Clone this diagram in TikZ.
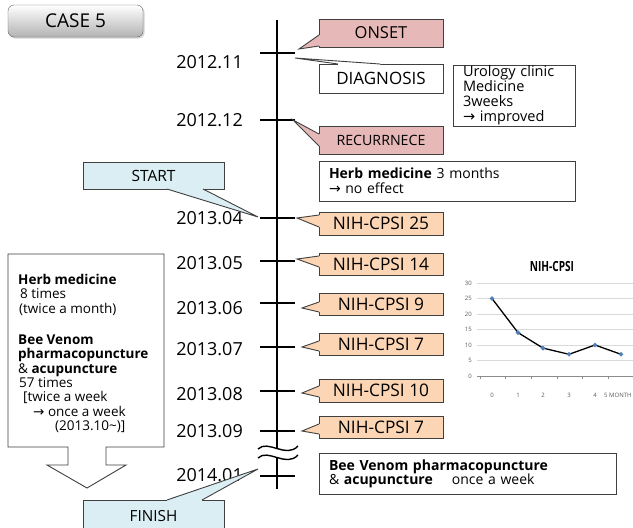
\documentclass[tikz,border=0pt]{standalone}
\usepackage{fontspec}
\setmainfont{Open Sans}
\newfontfamily\arrowfont{DejaVu Sans}
\usetikzlibrary{calc,shadows,shapes.geometric}
\definecolor{pinkf}{HTML}{E6B9B8}
\definecolor{peach}{HTML}{FCD5B4}
\definecolor{lblue}{HTML}{DBEEF4}
\definecolor{bord}{HTML}{404040}
\definecolor{mblue}{HTML}{4F81BD}
\definecolor{gridc}{HTML}{D9D9D9}
\newcommand{\fs}[1]{\fontsize{#1}{#1}\selectfont}
\newcommand{\arr}{{\arrowfont →}}
% left-edge pointer: node, colour, tip, y-offset a, y-offset b
\newcommand{\lcall}[5]{%
  \fill[#2] ($(#1.north west)+(-0.5,#4)$) -- (#3) -- ($(#1.north west)+(-0.5,#5)$)
    -- ($(#1.north west)+(1.3,#5)$) -- ($(#1.north west)+(1.3,#4)$) -- cycle;
  \draw[bord, line width=0.9pt] ($(#1.north west)+(0,#4)$) -- (#3) -- ($(#1.north west)+(0,#5)$);}
% top-edge pointer: node, colour, tip, x-offset a, x-offset b
\newcommand{\tcall}[5]{%
  \fill[#2] ($(#1.north west)+(#4,-0.5)$) -- (#3) -- ($(#1.north west)+(#5,-0.5)$)
    -- ($(#1.north west)+(#5,1.3)$) -- ($(#1.north west)+(#4,1.3)$) -- cycle;
  \draw[bord, line width=0.9pt] ($(#1.north west)+(#4,0)$) -- (#3) -- ($(#1.north west)+(#5,0)$);}
% bottom-edge pointer
\newcommand{\bcall}[5]{%
  \fill[#2] ($(#1.south west)+(#4,0.5)$) -- (#3) -- ($(#1.south west)+(#5,0.5)$)
    -- ($(#1.south west)+(#5,-1.3)$) -- ($(#1.south west)+(#4,-1.3)$) -- cycle;
  \draw[bord, line width=0.9pt] ($(#1.south west)+(#4,0)$) -- (#3) -- ($(#1.south west)+(#5,0)$);}
\tikzset{
  callbox/.style={draw=bord, line width=0.9pt, minimum width=124pt, inner sep=0pt, outer sep=0pt, rectangle},
  nih/.style={callbox, fill=peach, minimum height=22pt, font=\fs{17.3}},
  datelab/.style={anchor=east, inner sep=0pt, font=\fs{18}},
  tickline/.style={line width=1.8pt},
  ylab/.style={anchor=east, inner sep=0pt, font=\fs{6}, text=black!65},
  xlab/.style={inner sep=0pt, font=\fs{6}, text=black!65},
  marker/.style={diamond, fill=mblue, inner sep=0pt, minimum size=5pt}
}
\begin{document}
\begin{tikzpicture}[x=1pt,y=-1pt]
\useasboundingbox (0,0) rectangle (633,528);
\fill[white] (0,0) rectangle (633,528);

% CASE 5
\node[draw=black!60, rounded corners=6pt, minimum width=135pt, minimum height=32pt,
  top color=white, bottom color=black!30,
  drop shadow={opacity=0.35,shadow xshift=1.5pt,shadow yshift=-1.5pt},
  font=\fs{19}] (case) at (75.5,21) {CASE 5};

% timeline
\coordinate (ltop) at (277,20);
\coordinate (lbot) at (277,489);
\draw[line width=2.6pt] (ltop) -- (lbot);
\foreach \n/\y in {a/53, b/120, c/218, d/261, e/303, f/347, g/391, h/431, i/476}{
  \coordinate (t\n) at (277,\y);
  \draw[tickline] ($(t\n)+(-17,0)$) -- ($(t\n)+(18,0)$);
}
% break symbol
\fill[white] (258,449) .. controls (268,439) and (286,459) .. (298,446)
  -- (298,455) .. controls (286,468) and (268,448) .. (258,458) -- cycle;
\draw[line width=1.4pt] (258,449) .. controls (268,439) and (286,459) .. (298,446);
\draw[line width=1.4pt] (258,458) .. controls (268,448) and (286,468) .. (298,455);

% dates
\node[datelab] (da) at (243,62) {2012.11};
\node[datelab] (db) at (243,120) {2012.12};
\node[datelab] (dc) at (243,218) {2013.04};
\node[datelab] (dd) at (243,263) {2013.05};
\node[datelab] (de) at (243,308) {2013.06};
\node[datelab] (df) at (243,349) {2013.07};
\node[datelab] (dg) at (243,394) {2013.08};
\node[datelab] (dh) at (243,431) {2013.09};
\node[datelab] (di) at (243,475) {2014.01};

% right callouts
\coordinate (tipon) at (299,49);
\node[callbox, fill=pinkf, minimum height=28pt, font=\fs{16.5}] (onset) at (381,33) {ONSET};
\lcall{onset}{pinkf}{tipon}{16}{27}

\coordinate (tipdg) at (295,58);
\node[callbox, fill=white, minimum height=29pt, font=\fs{17}] (diag) at (381,78.5) {DIAGNOSIS};
\tcall{diag}{white}{tipdg}{19}{61}

\node[callbox, fill=white, minimum width=122pt, minimum height=61pt, inner xsep=10pt,
  text width=102pt, align=left, font=\fontsize{14.5}{15}\selectfont] (uro) at (514,95.5)
  {Urology clinic\\Medicine\\3weeks\\\arr{} improved};

\coordinate (tiprc) at (293,120);
\node[callbox, fill=pinkf, minimum height=28pt, font=\fs{14.2}] (recur) at (381,140) {RECURRNECE};
\lcall{recur}{pinkf}{tiprc}{8}{20}

\node[callbox, fill=white, minimum width=256pt, minimum height=40pt, inner xsep=10pt,
  text width=236pt, align=left, font=\fontsize{14}{15}\selectfont] (herb) at (447,181)
  {\textbf{Herb medicine} 3 months\\\arr{} no effect};

\coordinate (tip25) at (297,218);
\node[nih, minimum height=23pt] (nih25) at (381,223.5) {NIH-CPSI 25};
\lcall{nih25}{peach}{tip25}{3}{15}
\coordinate (tip14) at (297,259);
\node[nih] (nih14) at (381,264) {NIH-CPSI 14};
\lcall{nih14}{peach}{tip14}{3}{14}
\coordinate (tip9) at (302,308);
\node[nih] (nih9) at (381,304) {NIH-CPSI 9};
\lcall{nih9}{peach}{tip9}{9}{19}
\coordinate (tip7a) at (302,347);
\node[nih] (nih7a) at (381,344) {NIH-CPSI 7};
\lcall{nih7a}{peach}{tip7a}{8}{18}
\coordinate (tip10) at (302,393);
\node[nih, minimum height=23pt] (nih10) at (381,390.5) {NIH-CPSI 10};
\lcall{nih10}{peach}{tip10}{7}{18}
\coordinate (tip7b) at (302,431);
\node[nih] (nih7b) at (381,427) {NIH-CPSI 7};
\lcall{nih7b}{peach}{tip7b}{8}{18}

\node[callbox, fill=white, minimum width=297pt, minimum height=41pt, inner xsep=10pt,
  text width=277pt, align=left, font=\fontsize{14}{14}\selectfont] (bee) at (467.5,473.5)
  {\textbf{Bee Venom pharmacopuncture}\\\& \textbf{acupuncture}\hspace*{19pt}once a week};

% left side
\coordinate (tipst) at (258,217);
\node[callbox, fill=lblue, minimum width=141pt, minimum height=27pt, font=\fs{15.5}] (start) at (153.5,175.5) {START};
\bcall{start}{lblue}{tipst}{84}{120}

\coordinate (tipfn) at (258,469);
\node[callbox, fill=lblue, minimum width=141pt, minimum height=32pt, font=\fs{15.3}] (finish) at (153.5,516) {FINISH};
\tcall{finish}{lblue}{tipfn}{84}{119}

\draw[bord, line width=0.9pt, fill=white] (8,254) -- (164,254) -- (164,447) -- (106,447) -- (106,465)
  -- (126,465) -- (87,488) -- (47,465) -- (68,465) -- (68,447) -- (8,447) -- cycle;
\node[anchor=north west, inner sep=0pt, align=left, font=\fontsize{13.5}{14.4}\selectfont] (ltext) at (18,274)
  {\textbf{Herb medicine}\\
   \hspace*{2pt}8 times\\
   \hspace*{1pt}(twice a month)\\[16.6pt]
   \textbf{Bee Venom}\\
   \textbf{pharmacopuncture}\\
   \& \textbf{acupuncture}\\
   \hspace*{1pt}57 times\\
   \hspace*{5pt}[twice a week\\
   \hspace*{15pt}\arr{} once a week\\
   \hspace*{37pt}(2013.10\textasciitilde)]};

% chart
\node[font=\bfseries\fs{14}] (ctitle) at (552,266) {\scalebox{0.72}[1]{NIH-CPSI}};
\foreach \v in {5,10,...,30}{
  \draw[gridc, line width=0.6pt] (477,{376-3.1*\v}) -- (633,{376-3.1*\v});
}
\foreach \v in {0,5,...,30}{
  \node[ylab] (yl\v) at (472,{376-3.1*\v}) {\v};
}
\draw[black!45, line width=0.6pt] (477,376) -- (633,376);
\foreach \x in {480,505.5,531,557,582,608}{
  \draw[black!45, line width=0.6pt] (\x,376) -- (\x,379);
}
\foreach \i/\x/\v in {0/492/25,1/518/14,2/543/9,3/569/7,4/595/10,5/621/7}{
  \coordinate (p\i) at (\x,{376-3.1*\v});
}
\draw[line width=1.3pt] (p0) -- (p1) -- (p2) -- (p3) -- (p4) -- (p5);
\foreach \i in {0,...,5}{ \node[marker] (m\i) at (p\i) {}; }
\foreach \i/\x in {0/492,1/518,2/543,3/569,4/595}{
  \node[xlab] (xl\i) at (\x,395) {\i};
}
\node[xlab, anchor=west] (xl5) at (604,395) {5 MONTH};
\end{tikzpicture}
\end{document}
